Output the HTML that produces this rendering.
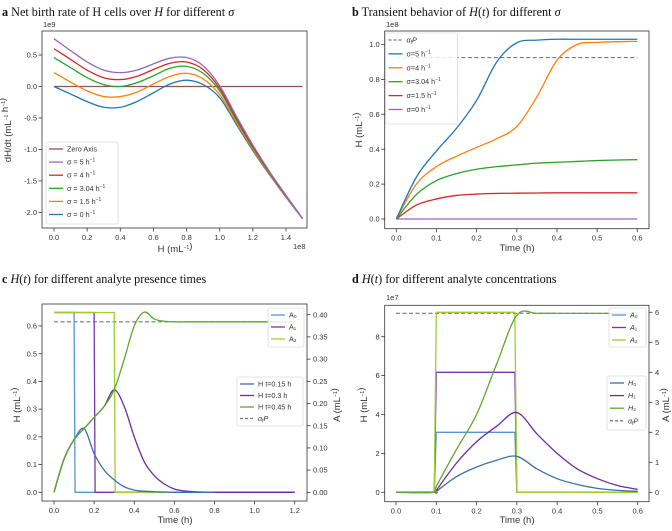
<!DOCTYPE html>
<html><head><meta charset="utf-8"><style>
body{margin:0;background:#fff}
svg text{font-family:"Liberation Sans",sans-serif;fill:#333}
.ttl{font-family:"Liberation Serif",serif;font-size:12.2px;fill:#111}
.tk{font-size:7.5px}
.lb{font-size:9.5px}
.lg{font-size:7.2px}
</style></head><body>
<svg id="fig" width="672" height="526" viewBox="0 0 672 526" xmlns="http://www.w3.org/2000/svg">
<text class="ttl" x="2" y="16"><tspan font-weight="bold">a</tspan> Net birth rate of H cells over <tspan font-style="italic">H</tspan> for different <tspan font-style="italic">σ</tspan></text>
<text class="ttl" x="352" y="16"><tspan font-weight="bold">b</tspan> Transient behavior of <tspan font-style="italic">H</tspan>(<tspan font-style="italic">t</tspan>) for different <tspan font-style="italic">σ</tspan></text>
<text class="ttl" x="2" y="283"><tspan font-weight="bold">c</tspan> <tspan font-style="italic">H</tspan>(<tspan font-style="italic">t</tspan>) for different analyte presence times</text>
<text class="ttl" x="352" y="283"><tspan font-weight="bold">d</tspan> <tspan font-style="italic">H</tspan>(<tspan font-style="italic">t</tspan>) for different analyte concentrations</text>
</svg>
<script>
// ---------- data ----------
const aH=[0,0.1,0.2,0.3,0.4,0.5,0.6,0.7,0.8,0.9,1.0,1.1,1.2,1.3,1.4,1.5];
const aS0=[0,-0.12,-0.24,-0.33,-0.33,-0.24,-0.1,0.04,0.1,0.03,-0.18,-0.6,-1.02,-1.4,-1.76,-2.1];
const aS15=[0.22,0.07,-0.07,-0.16,-0.16,-0.09,0.04,0.16,0.21,0.12,-0.13,-0.57,-1.0,-1.39,-1.75,-2.1];
const aS304=[0.46,0.3,0.14,0.03,0.0,0.06,0.17,0.29,0.32,0.21,-0.07,-0.53,-0.97,-1.37,-1.74,-2.1];
const aS4=[0.6,0.43,0.26,0.14,0.11,0.16,0.27,0.37,0.39,0.27,-0.03,-0.5,-0.95,-1.36,-1.73,-2.1];
const aS5=[0.76,0.57,0.39,0.26,0.22,0.26,0.36,0.45,0.46,0.33,0.01,-0.47,-0.93,-1.35,-1.73,-2.1];
const aXT=[0,0.2,0.4,0.6,0.8,1.0,1.2,1.4];
const aYT=[0.5,0,-0.5,-1,-1.5,-2];

const bT=[0,0.05,0.1,0.15,0.2,0.25,0.3,0.35,0.4,0.45,0.5,0.55,0.6];
const bS5=[0,0.24,0.39,0.52,0.68,0.9,1.01,1.025,1.03,1.03,1.03,1.03,1.03];
const bS4=[0,0.2,0.3,0.36,0.41,0.46,0.53,0.70,0.91,1.0,1.012,1.016,1.018];
const bS304=[0,0.14,0.22,0.26,0.285,0.3,0.31,0.32,0.325,0.33,0.335,0.338,0.34];
const bS15=[0,0.08,0.115,0.135,0.143,0.147,0.148,0.149,0.15,0.15,0.15,0.15,0.15];
const bS0=[0,0,0,0,0,0,0,0,0,0,0,0,0];
const bAlphaP=0.925;
const bXT=[0,0.1,0.2,0.3,0.4,0.5,0.6];
const bYT=[0,0.2,0.4,0.6,0.8,1.0];

const cT=[0,0.05,0.1,0.15,0.2,0.25,0.3,0.35,0.4,0.45,0.5,0.55,0.6,0.65,0.7,0.8,1.0,1.2];
const cH15=[0,0.12,0.19,0.23,0.14,0.08,0.045,0.02,0.008,0.004,0.002,0.001,0,0,0,0,null,null];
const cH30=[0,0.12,0.19,0.23,0.27,0.31,0.37,0.31,0.2,0.11,0.06,0.03,0.012,0.005,0.002,0,0,0];
const cH45=[0,0.12,0.19,0.23,0.27,0.31,0.37,0.48,0.6,0.65,0.625,0.617,0.615,0.615,0.615,0.615,0.615,0.615];
const cADrop=[0.1,0.2,0.3];
const cAEnd=[0.8,1.2,0.8];
const cALevel=0.405;
const cAlphaP=0.615;
const cXT=[0,0.2,0.4,0.6,0.8,1.0,1.2];
const cYLT=[0,0.1,0.2,0.3,0.4,0.5,0.6];
const cYRT=[0,0.05,0.1,0.15,0.2,0.25,0.3,0.35,0.4];

const dT=[0,0.095,0.1,0.15,0.2,0.25,0.3,0.35,0.4,0.45,0.5,0.55,0.6];
const dH0=[0,0,0.05,0.8,1.3,1.65,1.85,1.2,0.7,0.4,0.2,0.1,0.05];
const dH1=[0,0,0.1,1.5,2.6,3.4,4.1,3.0,2.0,1.2,0.7,0.35,0.15];
const dH2=[0,0,0.3,2.2,4.0,6.6,9.1,9.2,9.2,9.2,9.2,9.2,9.2];
const dALevels=[2,4,6];
const dAStart=0.1, dAEnd=0.295;
const dAlphaP=9.2;
const dXT=[0,0.1,0.2,0.3,0.4,0.5,0.6];
const dYLT=[0,2,4,6,8];
const dYRT=[0,1,2,3,4,5,6];

// ---------- helpers ----------
const svg=document.getElementById('fig');
const NS='http://www.w3.org/2000/svg';
function mk(tag,attrs,name,parent){
  const el=document.createElementNS(NS,tag);
  for(const k in attrs) el.setAttribute(k,attrs[k]);
  
  
  (parent||svg).appendChild(el);
  return el;
}
function txt(x,y,s,cls,name,anchor,rot){
  const t=mk('text',{x:x,y:y,class:cls,'text-anchor':anchor||'start'},name);
  if(rot) t.setAttribute('transform','rotate(-90 '+x+' '+y+')');
  t.innerHTML=s;
  return t;
}
function smooth(pts){
  if(pts.length<2) return '';
  let d='M'+pts[0][0]+','+pts[0][1];
  for(let i=0;i<pts.length-1;i++){
    const p0=pts[Math.max(0,i-1)],p1=pts[i],p2=pts[i+1],p3=pts[Math.min(pts.length-1,i+2)];
    const c1x=p1[0]+(p2[0]-p0[0])/6,c1y=p1[1]+(p2[1]-p0[1])/6;
    const c2x=p2[0]-(p3[0]-p1[0])/6,c2y=p2[1]-(p3[1]-p1[1])/6;
    d+=' C'+c1x+','+c1y+' '+c2x+','+c2y+' '+p2[0]+','+p2[1];
  }
  return d;
}
function series(xs,ys,fx,fy,color,name,w){
  const pts=[];
  xs.forEach((x,i)=>{if(ys[i]!==null) pts.push([fx(x),fy(ys[i])]);});
  return mk('path',{d:smooth(pts),fill:'none',stroke:color,'stroke-width':w||1.3},name);
}
function poly(pts,color,name,dash,w){
  const a={points:pts.map(p=>p.join(',')).join(' '),fill:'none',stroke:color,'stroke-width':w||1.3};
  if(dash) a['stroke-dasharray']=dash;
  return mk('polyline',a,name);
}
function frame(x0,y0,x1,y1,name){
  mk('rect',{x:x0,y:y0,width:x1-x0,height:y1-y0,fill:'none',stroke:'#333','stroke-width':0.8},name);
}
function xticks(vals,fx,yb,fmt,name){
  vals.forEach(v=>{
    mk('line',{x1:fx(v),x2:fx(v),y1:yb,y2:yb+3.5,stroke:'#333','stroke-width':0.8},name+'-tick');
    txt(fx(v),yb+12,fmt(v),'tk',name+'-label','middle');
  });
}
function yticks(vals,fy,xl,fmt,name,right){
  vals.forEach(v=>{
    mk('line',{x1:xl,x2:right?xl+3.5:xl-3.5,y1:fy(v),y2:fy(v),stroke:'#333','stroke-width':0.8},name+'-tick');
    txt(right?xl+6:xl-5,fy(v)+2.6,fmt(v),'tk',name+'-label',right?'start':'end');
  });
}
function legend(x,y,w,h,items,name,step){
  mk('rect',{x:x,y:y,width:w,height:h,rx:2,fill:'rgba(255,255,255,0.85)',stroke:'#ccc','stroke-width':0.6},name);
  items.forEach((it,i)=>{
    const yy=y+7+i*step;
    const a={x1:x+3,x2:x+17,y1:yy,y2:yy,stroke:it[1],'stroke-width':1.3};
    if(it[2]) a['stroke-dasharray']='3,2';
    mk('line',a,'legend-swatch');
    txt(x+21,yy+2.5,it[0],'lg','legend-entry');
  });
}
const f1=v=>v.toFixed(1), f2=v=>v.toFixed(2), f0=v=>v.toFixed(0);
const sup='<tspan font-size="5" dy="-3">−1</tspan><tspan dy="3"></tspan>';
const alphaP='<tspan font-style="italic">α</tspan><tspan font-size="5" dy="1.5">f</tspan><tspan dy="-1.5" font-style="italic">P</tspan>';

// ---------- panel a ----------
const xa=v=>54+v*(232/1.4), ya=v=>86.5-v*62.93;
frame(42,31,307,228,'plot-area-a');
xticks(aXT,xa,228,f1,'x-axis-a');
yticks(aYT,ya,42,f1,'y-axis-a');
txt(43,27,'1e9','tk','y-exponent-a');
txt(293,249,'1e8','tk','x-exponent-a');
txt(175,252,'H (mL'+sup+')','lb','x-axis-title-a','middle');
txt(11,130,'dH/dt (mL'+sup+' h'+sup+')','lb','y-axis-title-a','middle',true);
poly([[xa(0),ya(0)],[xa(1.5),ya(0)]],'#8c564b','line-zero-axis');
series(aH,aS0,xa,ya,'#1f77b4','line-sigma-0');
series(aH,aS15,xa,ya,'#ff7f0e','line-sigma-1-5');
series(aH,aS304,xa,ya,'#2ca02c','line-sigma-3-04');
series(aH,aS4,xa,ya,'#d62728','line-sigma-4');
series(aH,aS5,xa,ya,'#9467bd','line-sigma-5');
legend(46,142,72,82,[['Zero Axis','#8c564b'],['σ = 5 h'+sup,'#9467bd'],['σ = 4 h'+sup,'#d62728'],['σ = 3.04 h'+sup,'#2ca02c'],['σ = 1.5 h'+sup,'#ff7f0e'],['σ = 0 h'+sup,'#1f77b4']],'legend-a',13.1);

// ---------- panel b ----------
const xb=v=>396.3+v*(241/0.6), yb=v=>219-v*174.5;
frame(384.7,31,649,228.7,'plot-area-b');
xticks(bXT,xb,228.7,f1,'x-axis-b');
yticks(bYT,yb,384.7,f1,'y-axis-b');
txt(386,27,'1e8','tk','y-exponent-b');
txt(517,251,'Time (h)','lb','x-axis-title-b','middle');
txt(362,130,'H (mL'+sup+')','lb','y-axis-title-b','middle',true);
poly([[xb(0),yb(bAlphaP)],[xb(0.6),yb(bAlphaP)]],'#777','line-alpha-p-b','4,2.5',1.1);
series(bT,bS0,xb,yb,'#9467bd','line-b-sigma-0');
series(bT,bS15,xb,yb,'#d62728','line-b-sigma-1-5');
series(bT,bS304,xb,yb,'#2ca02c','line-b-sigma-3-04');
series(bT,bS4,xb,yb,'#ff7f0e','line-b-sigma-4');
series(bT,bS5,xb,yb,'#1f77b4','line-b-sigma-5');
legend(385.5,33,72,91,[[alphaP,'#777',true],['σ=5 h'+sup,'#1f77b4'],['σ=4 h'+sup,'#ff7f0e'],['σ=3.04 h'+sup,'#2ca02c'],['σ=1.5 h'+sup,'#d62728'],['σ=0 h'+sup,'#9467bd']],'legend-b',13.9);

// ---------- panel c ----------
const xc=v=>54+v*(240.7/1.2), ycl=v=>492.3-v*277.2, ycr=v=>492.3-v*444;
const cAcol=['#5b93d3','#7a35b0','#9bcf2e'], cHcol=['#3b6fae','#6b2ea2','#5ea82b'];
frame(42,304,307,501,'plot-area-c');
xticks(cXT,xc,501,f1,'x-axis-c');
yticks(cYLT,ycl,42,f1,'y-axis-left-c');
yticks(cYRT,ycr,307,f2,'y-axis-right-c',true);
txt(175,523,'Time (h)','lb','x-axis-title-c','middle');
txt(20,405,'H (mL'+sup+')','lb','y-axis-left-title-c','middle',true);
txt(340,405,'A (mL'+sup+')','lb','y-axis-right-title-c','middle',true);
poly([[xc(0),ycl(cAlphaP)],[xc(1.2),ycl(cAlphaP)]],'#777','line-alpha-p-c','4,2.5',1.1);
cADrop.forEach((t,i)=>{
  poly([[xc(0),ycr(cALevel)],[xc(t),ycr(cALevel)],[xc(t+0.005),ycr(0)],[xc(cAEnd[i]),ycr(0)]],cAcol[i],'line-c-a'+i);
});
series(cT,cH30,xc,ycl,cHcol[1],'line-c-h-t0-3');
series(cT,cH15,xc,ycl,cHcol[0],'line-c-h-t0-15');
series(cT,cH45,xc,ycl,cHcol[2],'line-c-h-t0-45');
legend(268,308,36,39,[['A₀',cAcol[0]],['A₁',cAcol[1]],['A₂',cAcol[2]]],'legend-c-a',12);
legend(237,377,66,49,[['H t=0.15 h',cHcol[0]],['H t=0.3 h',cHcol[1]],['H t=0.45 h',cHcol[2]],[alphaP,'#777',true]],'legend-c-h',11.5);

// ---------- panel d ----------
const xd=v=>396+v*(241.7/0.6), ydl=v=>492.3-v*19.45, ydr=v=>492.3-v*30;
frame(384.7,305.3,649,501.7,'plot-area-d');
xticks(dXT,xd,501.7,f1,'x-axis-d');
yticks(dYLT,ydl,384.7,f0,'y-axis-left-d');
yticks(dYRT,ydr,649,f0,'y-axis-right-d',true);
txt(386,300,'1e7','tk','y-exponent-d');
txt(517,523,'Time (h)','lb','x-axis-title-d','middle');
txt(367,405,'H (mL'+sup+')','lb','y-axis-left-title-d','middle',true);
txt(669,405,'A (mL'+sup+')','lb','y-axis-right-title-d','middle',true);
poly([[xd(0),ydl(dAlphaP)],[xd(0.6),ydl(dAlphaP)]],'#777','line-alpha-p-d','4,2.5',1.1);
dALevels.forEach((lv,i)=>{
  poly([[xd(0),ydr(0)],[xd(0.095),ydr(0)],[xd(dAStart),ydr(lv)],[xd(dAEnd),ydr(lv)],[xd(dAEnd+0.005),ydr(0)],[xd(0.6),ydr(0)]],cAcol[i],'line-d-a'+i);
});
series(dT,dH0,xd,ydl,cHcol[0],'line-d-h0');
series(dT,dH1,xd,ydl,cHcol[1],'line-d-h1');
series(dT,dH2,xd,ydl,cHcol[2],'line-d-h2');
legend(609,308,37,39,[['<tspan font-style="italic">A</tspan>₀',cAcol[0]],['<tspan font-style="italic">A</tspan>₁',cAcol[1]],['<tspan font-style="italic">A</tspan>₂',cAcol[2]]],'legend-d-a',12.5);
legend(607,376,39,54,[['<tspan font-style="italic">H</tspan>₀',cHcol[0]],['<tspan font-style="italic">H</tspan>₁',cHcol[1]],['<tspan font-style="italic">H</tspan>₂',cHcol[2]],[alphaP,'#777',true]],'legend-d-h',12.6);
</script>
</body></html>
